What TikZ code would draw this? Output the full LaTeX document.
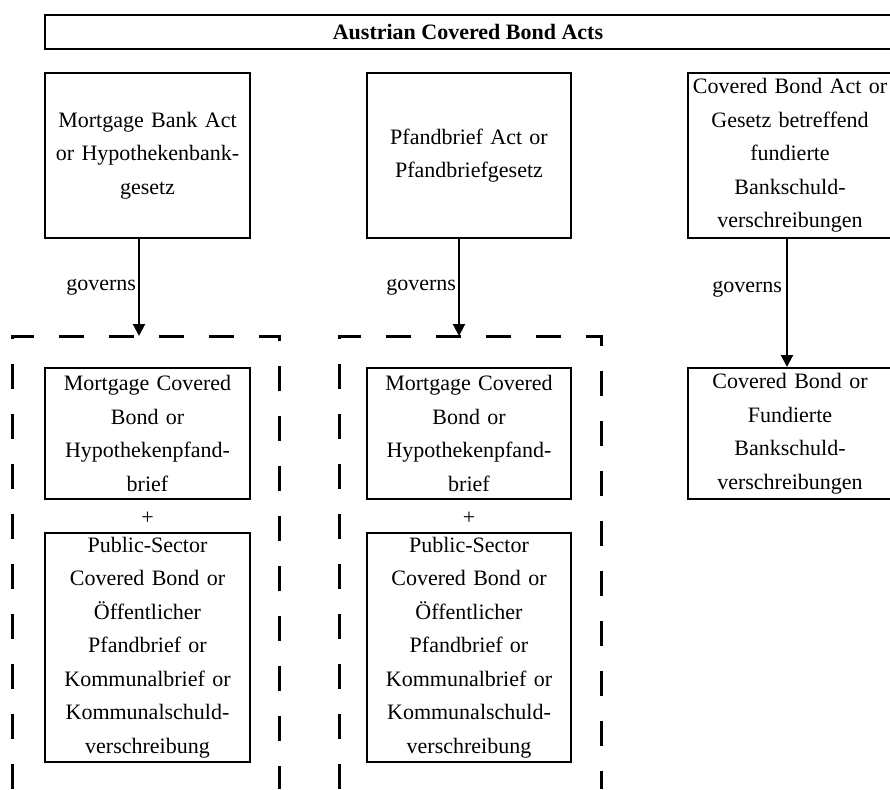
\documentclass[tikz,border=0pt]{standalone}
\usepackage{fontspec}
\setmainfont{Liberation Serif}
\usetikzlibrary{arrows.meta}

\begin{document}
\begin{tikzpicture}[x=0.5pt,y=-0.5pt,
    font=\fontsize{11}{16.75}\selectfont,
    box/.style={draw, line width=1pt, align=center, inner sep=1pt, text width=100pt, minimum width=#1, minimum height=65.5pt},
    gov/.style={line width=1pt, -{Triangle[width=6pt,length=6pt]}},
    group/.style={line width=1.5pt, dash pattern=on 12.5pt off 12.5pt}]
    \useasboundingbox (0,0) rectangle (890,789);
    % title
    \node[draw, line width=1pt, minimum width=423pt, minimum height=17pt, font=\fontsize{11}{13}\selectfont\bfseries] (acts) at (468,32) {Austrian Covered Bond Acts};
    % the three acts
    \node[box=102.5pt, minimum height=82.5pt] (mba) at (147.5,155.5) {Mortgage Bank Act\\or Hypothekenbank-\\gesetz};
    \node[box=102pt, minimum height=82.5pt] (pfa) at (469,155.5) {Pfandbrief Act or\\Pfandbriefgesetz};
    \node[box=101pt, minimum height=82.5pt] (cba) at (790,155.5) {Covered Bond Act or\\Gesetz betreffend\\fundierte\\Bankschuld-\\verschreibungen};
    % dashed groups
    \draw[group] (12,789) -- (12,336) -- (279,336) -- (279,789);
    \draw[group] (339,789) -- (339,336) -- (601,336) -- (601,789);
    \coordinate (t1) at (139,336);
    \coordinate (t2) at (459,336);
    % column 1
    \node[box=102.5pt] (mcb1) at (147.5,433.5) {Mortgage Covered\\Bond or\\Hypothekenpfand-\\brief};
    \node (plus1) at (147.5,518) {+};
    \node[box=102.5pt, minimum height=114.5pt] (psb1) at (147.5,647.5) {Public-Sector\\Covered Bond or\\Öffentlicher\\Pfandbrief or\\Kommunalbrief or\\Kommunalschuld-\\verschreibung};
    % column 2
    \node[box=102pt] (mcb2) at (469,433.5) {Mortgage Covered\\Bond or\\Hypothekenpfand-\\brief};
    \node (plus2) at (469,518) {+};
    \node[box=102pt, minimum height=114.5pt] (psb2) at (469,647.5) {Public-Sector\\Covered Bond or\\Öffentlicher\\Pfandbrief or\\Kommunalbrief or\\Kommunalschuld-\\verschreibung};
    % column 3
    \node[box=101pt] (fbs) at (790,433.5) {Covered Bond or\\Fundierte\\Bankschuld-\\verschreibungen};
    % governs arrows
    \draw[gov] (mba.south -| t1) -- (t1) node[pos=0.5, left, inner sep=1pt] {governs};
    \draw[gov] (pfa.south -| t2) -- (t2) node[pos=0.5, left, inner sep=1pt] {governs};
    \draw[gov] (cba.south -| 787,0) -- (fbs.north -| 787,0) node[pos=0.39, left, inner sep=2pt] {governs};
\end{tikzpicture}
\end{document}
